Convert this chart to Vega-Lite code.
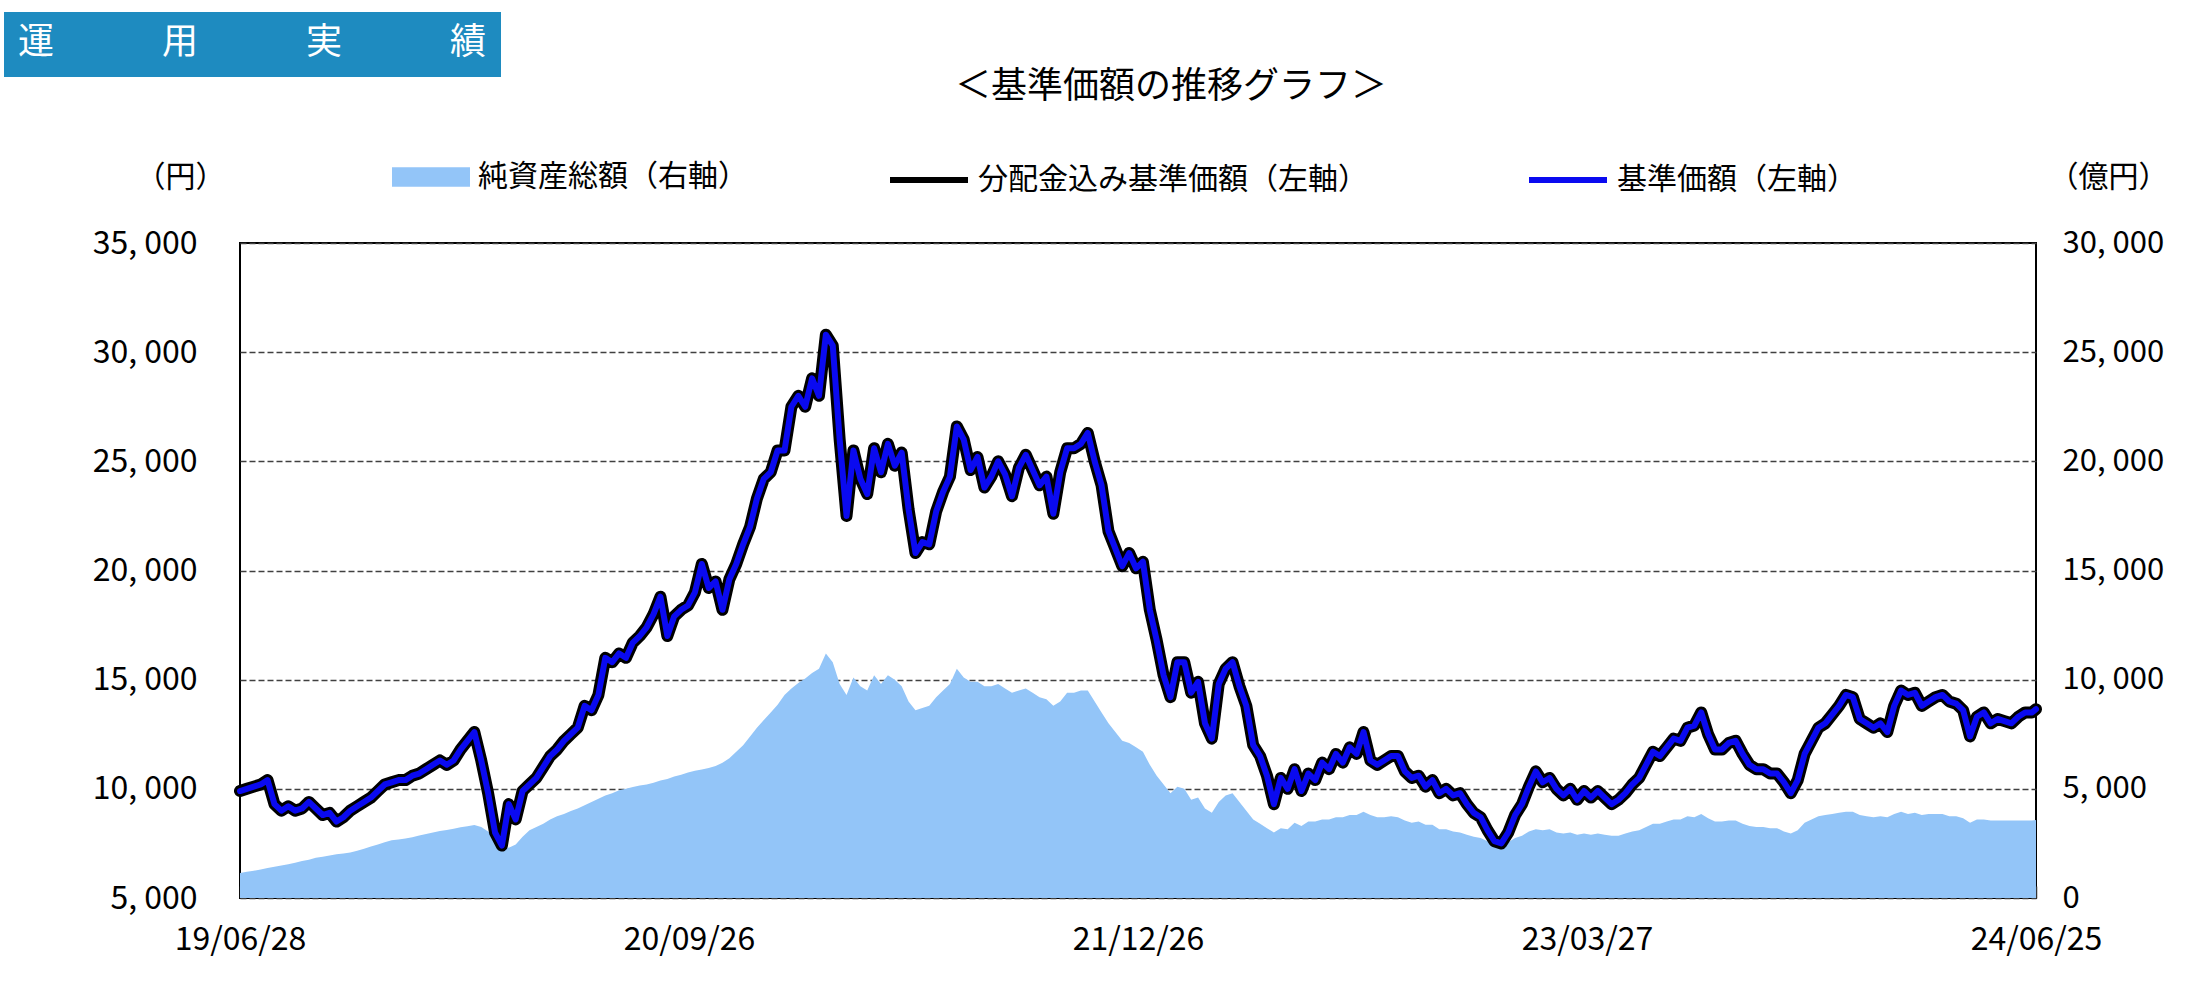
{
"$schema": "https://vega.github.io/schema/vega-lite/v6.json",
"width": 1796, "height": 655,
"autosize": {"type": "none"},
"padding": {"left": 240, "top": 243, "right": 172, "bottom": 90},
"background": "white",
"config": {
  "view": {"stroke": "#000000", "strokeWidth": 2},
  "font": "Noto Sans CJK JP",
  "axis": {"labelColor": "black", "titleColor": "black", "titleFont": "Noto Sans CJK JP", "titleFontWeight": "normal", "titleFontSize": 30, "labelFont": "Noto Sans CJK JP", "labelFontSize": 32}
},
"title": {"text": "＜基準価額の推移グラフ＞", "fontSize": 36, "font": "Noto Sans CJK JP", "fontWeight": "normal", "color": "black", "anchor": "middle", "frame": "group", "dx": 33, "baseline": "middle", "offset": -111},
"data": {"values": [
{"date":"2019-06-28","nav":9900,"assets":1150},{"date":"2019-07-05","nav":10000,"assets":1200},{"date":"2019-07-12","nav":10100,"assets":1250},{"date":"2019-07-19","nav":10200,"assets":1300},{"date":"2019-07-26","nav":10400,"assets":1370},{"date":"2019-08-02","nav":9300,"assets":1430},{"date":"2019-08-09","nav":9000,"assets":1490},{"date":"2019-08-16","nav":9200,"assets":1550},{"date":"2019-08-23","nav":9000,"assets":1620},{"date":"2019-08-30","nav":9100,"assets":1690},
{"date":"2019-09-06","nav":9400,"assets":1750},{"date":"2019-09-13","nav":9100,"assets":1840},{"date":"2019-09-20","nav":8800,"assets":1890},{"date":"2019-09-27","nav":8900,"assets":1950},{"date":"2019-10-04","nav":8500,"assets":2000},{"date":"2019-10-11","nav":8700,"assets":2040},{"date":"2019-10-18","nav":9000,"assets":2080},{"date":"2019-10-25","nav":9200,"assets":2160},{"date":"2019-11-01","nav":9400,"assets":2260},{"date":"2019-11-08","nav":9600,"assets":2360},
{"date":"2019-11-15","nav":9900,"assets":2450},{"date":"2019-11-22","nav":10200,"assets":2550},{"date":"2019-11-29","nav":10300,"assets":2640},{"date":"2019-12-06","nav":10400,"assets":2680},{"date":"2019-12-13","nav":10400,"assets":2730},{"date":"2019-12-20","nav":10600,"assets":2780},{"date":"2019-12-27","nav":10700,"assets":2860},{"date":"2020-01-03","nav":10900,"assets":2930},{"date":"2020-01-10","nav":11100,"assets":3000},{"date":"2020-01-17","nav":11300,"assets":3070},
{"date":"2020-01-24","nav":11100,"assets":3120},{"date":"2020-01-31","nav":11300,"assets":3170},{"date":"2020-02-07","nav":11800,"assets":3240},{"date":"2020-02-14","nav":12200,"assets":3290},{"date":"2020-02-21","nav":12600,"assets":3340},{"date":"2020-02-28","nav":11300,"assets":3250},{"date":"2020-03-06","nav":9800,"assets":3050},{"date":"2020-03-13","nav":8000,"assets":2800},{"date":"2020-03-20","nav":7400,"assets":2400},{"date":"2020-03-27","nav":9300,"assets":2300},
{"date":"2020-04-03","nav":8600,"assets":2450},{"date":"2020-04-10","nav":9900,"assets":2800},{"date":"2020-04-17","nav":10200,"assets":3100},{"date":"2020-04-24","nav":10500,"assets":3250},{"date":"2020-05-01","nav":11000,"assets":3400},{"date":"2020-05-08","nav":11500,"assets":3600},{"date":"2020-05-15","nav":11800,"assets":3750},{"date":"2020-05-22","nav":12200,"assets":3850},{"date":"2020-05-29","nav":12500,"assets":3980},{"date":"2020-06-05","nav":12800,"assets":4100},
{"date":"2020-06-12","nav":13800,"assets":4250},{"date":"2020-06-19","nav":13600,"assets":4400},{"date":"2020-06-26","nav":14300,"assets":4550},{"date":"2020-07-03","nav":16000,"assets":4700},{"date":"2020-07-10","nav":15800,"assets":4800},{"date":"2020-07-17","nav":16200,"assets":4930},{"date":"2020-07-24","nav":16000,"assets":5000},{"date":"2020-07-31","nav":16700,"assets":5080},{"date":"2020-08-07","nav":17000,"assets":5150},{"date":"2020-08-14","nav":17400,"assets":5200},
{"date":"2020-08-21","nav":18000,"assets":5280},{"date":"2020-08-28","nav":18800,"assets":5380},{"date":"2020-09-04","nav":17000,"assets":5450},{"date":"2020-09-11","nav":17900,"assets":5570},{"date":"2020-09-18","nav":18200,"assets":5650},{"date":"2020-09-25","nav":18400,"assets":5750},{"date":"2020-10-02","nav":19000,"assets":5830},{"date":"2020-10-09","nav":20300,"assets":5880},{"date":"2020-10-16","nav":19200,"assets":5950},{"date":"2020-10-23","nav":19500,"assets":6050},
{"date":"2020-10-30","nav":18200,"assets":6200},{"date":"2020-11-06","nav":19600,"assets":6400},{"date":"2020-11-13","nav":20300,"assets":6700},{"date":"2020-11-20","nav":21200,"assets":7000},{"date":"2020-11-27","nav":22000,"assets":7400},{"date":"2020-12-04","nav":23300,"assets":7800},{"date":"2020-12-11","nav":24200,"assets":8150},{"date":"2020-12-18","nav":24500,"assets":8500},{"date":"2020-12-25","nav":25500,"assets":8850},{"date":"2021-01-01","nav":25500,"assets":9300},
{"date":"2021-01-08","nav":27500,"assets":9600},{"date":"2021-01-15","nav":28000,"assets":9850},{"date":"2021-01-22","nav":27500,"assets":10050},{"date":"2021-01-29","nav":28800,"assets":10300},{"date":"2021-02-05","nav":28000,"assets":10500},{"date":"2021-02-12","nav":30800,"assets":11200},{"date":"2021-02-19","nav":30300,"assets":10800},{"date":"2021-02-26","nav":26000,"assets":9800},{"date":"2021-03-05","nav":22500,"assets":9300},{"date":"2021-03-12","nav":25500,"assets":10100},
{"date":"2021-03-19","nav":24200,"assets":9700},{"date":"2021-03-26","nav":23500,"assets":9500},{"date":"2021-04-02","nav":25600,"assets":10200},{"date":"2021-04-09","nav":24500,"assets":9800},{"date":"2021-04-16","nav":25800,"assets":10200},{"date":"2021-04-23","nav":24800,"assets":10000},{"date":"2021-04-30","nav":25400,"assets":9700},{"date":"2021-05-07","nav":22800,"assets":9000},{"date":"2021-05-14","nav":20800,"assets":8600},{"date":"2021-05-21","nav":21300,"assets":8700},
{"date":"2021-05-28","nav":21200,"assets":8800},{"date":"2021-06-04","nav":22700,"assets":9200},{"date":"2021-06-11","nav":23600,"assets":9500},{"date":"2021-06-18","nav":24300,"assets":9800},{"date":"2021-06-25","nav":26600,"assets":10500},{"date":"2021-07-02","nav":26000,"assets":10100},{"date":"2021-07-09","nav":24600,"assets":9900},{"date":"2021-07-16","nav":25200,"assets":9900},{"date":"2021-07-23","nav":23800,"assets":9700},{"date":"2021-07-30","nav":24300,"assets":9700},
{"date":"2021-08-06","nav":25000,"assets":9800},{"date":"2021-08-13","nav":24400,"assets":9600},{"date":"2021-08-20","nav":23400,"assets":9400},{"date":"2021-08-27","nav":24700,"assets":9500},{"date":"2021-09-03","nav":25300,"assets":9600},{"date":"2021-09-10","nav":24600,"assets":9400},{"date":"2021-09-17","nav":23900,"assets":9200},{"date":"2021-09-24","nav":24300,"assets":9100},{"date":"2021-10-01","nav":22600,"assets":8800},{"date":"2021-10-08","nav":24500,"assets":9000},
{"date":"2021-10-15","nav":25600,"assets":9400},{"date":"2021-10-22","nav":25600,"assets":9400},{"date":"2021-10-29","nav":25800,"assets":9500},{"date":"2021-11-05","nav":26300,"assets":9500},{"date":"2021-11-12","nav":25000,"assets":9000},{"date":"2021-11-19","nav":23900,"assets":8500},{"date":"2021-11-26","nav":21800,"assets":8000},{"date":"2021-12-03","nav":21000,"assets":7600},{"date":"2021-12-10","nav":20200,"assets":7200},{"date":"2021-12-17","nav":20800,"assets":7100},
{"date":"2021-12-24","nav":20100,"assets":6900},{"date":"2021-12-31","nav":20400,"assets":6700},{"date":"2022-01-07","nav":18200,"assets":6100},{"date":"2022-01-14","nav":16800,"assets":5600},{"date":"2022-01-21","nav":15200,"assets":5200},{"date":"2022-01-28","nav":14200,"assets":4800},{"date":"2022-02-04","nav":15800,"assets":5100},{"date":"2022-02-11","nav":15800,"assets":5000},{"date":"2022-02-18","nav":14400,"assets":4500},{"date":"2022-02-25","nav":14900,"assets":4600},
{"date":"2022-03-04","nav":13000,"assets":4100},{"date":"2022-03-11","nav":12300,"assets":3900},{"date":"2022-03-18","nav":14800,"assets":4400},{"date":"2022-03-25","nav":15500,"assets":4700},{"date":"2022-04-01","nav":15800,"assets":4800},{"date":"2022-04-08","nav":14700,"assets":4400},{"date":"2022-04-15","nav":13800,"assets":4000},{"date":"2022-04-22","nav":12000,"assets":3600},{"date":"2022-04-29","nav":11500,"assets":3400},{"date":"2022-05-06","nav":10600,"assets":3200},
{"date":"2022-05-13","nav":9300,"assets":3000},{"date":"2022-05-20","nav":10500,"assets":3200},{"date":"2022-05-27","nav":10000,"assets":3150},{"date":"2022-06-03","nav":10900,"assets":3450},{"date":"2022-06-10","nav":9900,"assets":3300},{"date":"2022-06-17","nav":10700,"assets":3500},{"date":"2022-06-24","nav":10400,"assets":3500},{"date":"2022-07-01","nav":11200,"assets":3600},{"date":"2022-07-08","nav":10900,"assets":3600},{"date":"2022-07-15","nav":11600,"assets":3700},
{"date":"2022-07-22","nav":11200,"assets":3700},{"date":"2022-07-29","nav":11900,"assets":3800},{"date":"2022-08-05","nav":11600,"assets":3800},{"date":"2022-08-12","nav":12600,"assets":3950},{"date":"2022-08-19","nav":11300,"assets":3800},{"date":"2022-08-26","nav":11100,"assets":3700},{"date":"2022-09-02","nav":11300,"assets":3700},{"date":"2022-09-09","nav":11500,"assets":3750},{"date":"2022-09-16","nav":11500,"assets":3700},{"date":"2022-09-23","nav":10800,"assets":3550},
{"date":"2022-09-30","nav":10500,"assets":3450},{"date":"2022-10-07","nav":10600,"assets":3500},{"date":"2022-10-14","nav":10100,"assets":3350},{"date":"2022-10-21","nav":10400,"assets":3350},{"date":"2022-10-28","nav":9800,"assets":3150},{"date":"2022-11-04","nav":10000,"assets":3150},{"date":"2022-11-11","nav":9700,"assets":3050},{"date":"2022-11-18","nav":9800,"assets":3000},{"date":"2022-11-25","nav":9300,"assets":2900},{"date":"2022-12-02","nav":8900,"assets":2800},
{"date":"2022-12-09","nav":8700,"assets":2750},{"date":"2022-12-16","nav":8100,"assets":2600},{"date":"2022-12-23","nav":7600,"assets":2450},{"date":"2022-12-30","nav":7500,"assets":2400},{"date":"2023-01-06","nav":8000,"assets":2550},{"date":"2023-01-13","nav":8800,"assets":2750},{"date":"2023-01-20","nav":9300,"assets":2850},{"date":"2023-01-27","nav":10100,"assets":3050},{"date":"2023-02-03","nav":10800,"assets":3150},{"date":"2023-02-10","nav":10300,"assets":3100},
{"date":"2023-02-17","nav":10500,"assets":3150},{"date":"2023-02-24","nav":10000,"assets":3000},{"date":"2023-03-03","nav":9700,"assets":2950},{"date":"2023-03-10","nav":10000,"assets":3000},{"date":"2023-03-17","nav":9500,"assets":2900},{"date":"2023-03-24","nav":9900,"assets":2950},{"date":"2023-03-31","nav":9600,"assets":2900},{"date":"2023-04-07","nav":9900,"assets":2950},{"date":"2023-04-14","nav":9600,"assets":2900},{"date":"2023-04-21","nav":9300,"assets":2850},
{"date":"2023-04-28","nav":9500,"assets":2850},{"date":"2023-05-05","nav":9800,"assets":2950},{"date":"2023-05-12","nav":10200,"assets":3050},{"date":"2023-05-19","nav":10500,"assets":3100},{"date":"2023-05-26","nav":11100,"assets":3250},{"date":"2023-06-02","nav":11700,"assets":3400},{"date":"2023-06-09","nav":11500,"assets":3400},{"date":"2023-06-16","nav":11900,"assets":3500},{"date":"2023-06-23","nav":12300,"assets":3600},{"date":"2023-06-30","nav":12200,"assets":3600},
{"date":"2023-07-07","nav":12800,"assets":3750},{"date":"2023-07-14","nav":12900,"assets":3700},{"date":"2023-07-21","nav":13500,"assets":3850},{"date":"2023-07-28","nav":12500,"assets":3650},{"date":"2023-08-04","nav":11800,"assets":3500},{"date":"2023-08-11","nav":11800,"assets":3500},{"date":"2023-08-18","nav":12100,"assets":3550},{"date":"2023-08-25","nav":12200,"assets":3550},{"date":"2023-09-01","nav":11600,"assets":3400},{"date":"2023-09-08","nav":11100,"assets":3300},
{"date":"2023-09-15","nav":10900,"assets":3250},{"date":"2023-09-22","nav":10900,"assets":3250},{"date":"2023-09-29","nav":10700,"assets":3200},{"date":"2023-10-06","nav":10700,"assets":3200},{"date":"2023-10-13","nav":10300,"assets":3050},{"date":"2023-10-20","nav":9800,"assets":2950},{"date":"2023-10-27","nav":10400,"assets":3100},{"date":"2023-11-03","nav":11600,"assets":3450},{"date":"2023-11-10","nav":12200,"assets":3600},{"date":"2023-11-17","nav":12800,"assets":3750},
{"date":"2023-11-24","nav":13000,"assets":3800},{"date":"2023-12-01","nav":13400,"assets":3850},{"date":"2023-12-08","nav":13800,"assets":3900},{"date":"2023-12-15","nav":14300,"assets":3950},{"date":"2023-12-22","nav":14200,"assets":3950},{"date":"2023-12-29","nav":13200,"assets":3800},{"date":"2024-01-05","nav":13000,"assets":3750},{"date":"2024-01-12","nav":12800,"assets":3700},{"date":"2024-01-19","nav":13000,"assets":3750},{"date":"2024-01-26","nav":12600,"assets":3700},
{"date":"2024-02-02","nav":13800,"assets":3850},{"date":"2024-02-09","nav":14500,"assets":3950},{"date":"2024-02-16","nav":14300,"assets":3850},{"date":"2024-02-23","nav":14400,"assets":3900},{"date":"2024-03-01","nav":13800,"assets":3800},{"date":"2024-03-08","nav":14000,"assets":3850},{"date":"2024-03-15","nav":14200,"assets":3850},{"date":"2024-03-22","nav":14300,"assets":3850},{"date":"2024-03-29","nav":14000,"assets":3750},{"date":"2024-04-05","nav":13900,"assets":3750},
{"date":"2024-04-12","nav":13600,"assets":3650},{"date":"2024-04-19","nav":12400,"assets":3450},{"date":"2024-04-26","nav":13300,"assets":3600},{"date":"2024-05-03","nav":13500,"assets":3600},{"date":"2024-05-10","nav":13000,"assets":3550},{"date":"2024-05-17","nav":13200,"assets":3550},{"date":"2024-05-24","nav":13100,"assets":3550},{"date":"2024-05-31","nav":13000,"assets":3550},{"date":"2024-06-07","nav":13300,"assets":3550},{"date":"2024-06-14","nav":13500,"assets":3550},
{"date":"2024-06-21","nav":13500,"assets":3550},{"date":"2024-06-25","nav":13650,"assets":3570}
]},
"encoding": {
  "x": {"field": "date", "type": "temporal",
    "scale": {"type": "utc", "domain": [{"year": 2019, "month": 6, "date": 28, "utc": true}, {"year": 2024, "month": 6, "date": 25, "utc": true}], "nice": false},
    "axis": {"title": null, "values": [{"year": 2019, "month": 6, "date": 28, "utc": true}, {"year": 2020, "month": 9, "date": 26, "utc": true}, {"year": 2021, "month": 12, "date": 26, "utc": true}, {"year": 2023, "month": 3, "date": 27, "utc": true}, {"year": 2024, "month": 6, "date": 25, "utc": true}],
      "format": "%y/%m/%d", "labelFlush": false, "labelOverlap": false, "grid": false, "domain": false, "ticks": true, "tickSize": -12, "tickColor": "#333333", "tickWidth": 1.5, "labelPadding": 38, "labelBaseline": "top", "labelAlign": "center"}}
},
"layer": [
  {"mark": {"type": "area", "interpolate": "linear"},
   "encoding": {
     "y": {"field": "assets", "type": "quantitative", "scale": {"domain": [0, 30000], "nice": false, "zero": true},
       "axis": {"orient": "right", "title": "（億円）", "values": [0, 5000, 10000, 15000, 20000, 25000, 30000], "labelExpr": "replace(format(datum.value, ','), ',', ', ')", "grid": false, "ticks": false, "domain": false, "labelPadding": 26, "labelFontSize": 31, "titleX": 72, "titleY": -66, "titleAngle": 0, "titleAlign": "center", "titleBaseline": "middle"}},
     "fill": {"datum": "純資産総額（右軸）", "type": "nominal", "scale": {"domain": ["純資産総額（右軸）"], "range": ["#93C5F8"]},
       "legend": {"title": null, "orient": "none", "legendX": 152, "legendY": -105, "symbolType": "M-1,-0.25H1V0.25H-1Z", "symbolSize": 6084, "symbolStrokeWidth": 0, "labelFontSize": 30, "labelFont": "Noto Sans CJK JP", "labelColor": "black", "labelOffset": 8, "labelLimit": 800, "padding": 0}},
     "opacity": {"datum": "運用実績", "type": "nominal", "scale": {"type": "ordinal", "domain": ["運用実績"], "range": [1]},
       "legend": {"title": "運　　　用　　　実　　　績", "orient": "none", "legendX": -236, "legendY": -231, "fillColor": "#1E8BC0", "padding": 14, "titleFontSize": 36, "titleFont": "Noto Sans CJK JP", "titleFontWeight": "normal", "titleColor": "white", "titlePadding": 0, "titleLimit": 0, "labelExpr": "''", "symbolSize": 0, "symbolOpacity": 0, "symbolStrokeWidth": 0, "labelFontSize": 1}}
   }},
  {"encoding": {
     "y": {"field": "nav", "type": "quantitative", "scale": {"domain": [5000, 35000], "nice": false, "zero": false},
       "axis": {"orient": "left", "title": "（円）", "values": [5000, 10000, 15000, 20000, 25000, 30000, 35000], "labelExpr": "replace(format(datum.value, ','), ',', ', ')", "grid": true, "gridColor": "#404040", "gridDash": [6, 3], "gridWidth": 1.5, "ticks": false, "domain": false, "labelPadding": 43, "titleX": -60, "titleY": -66, "titleAngle": 0, "titleAlign": "center", "titleBaseline": "middle"}}
   },
   "layer": [
     {"mark": {"type": "line", "strokeWidth": 12, "strokeJoin": "round", "strokeCap": "round"},
      "encoding": {
        "stroke": {"datum": "分配金込み基準価額（左軸）", "type": "nominal", "scale": {"domain": ["分配金込み基準価額（左軸）", "基準価額（左軸）"], "range": ["#000000", "#0A0AF0"]},
          "legend": {"title": null, "orient": "none", "legendX": 647, "legendY": -105, "direction": "horizontal", "symbolType": "stroke", "symbolSize": 6084, "symbolStrokeWidth": 6, "labelFontSize": 30, "labelFont": "Noto Sans CJK JP", "labelColor": "black", "labelOffset": 7, "columnPadding": 149, "labelLimit": 800, "padding": 0}}
      }},
     {"mark": {"type": "line", "strokeWidth": 6, "strokeJoin": "round", "strokeCap": "round"},
      "encoding": {
        "stroke": {"datum": "基準価額（左軸）", "type": "nominal",
          "legend": {"title": null, "orient": "none", "legendX": 647, "legendY": -105, "direction": "horizontal", "symbolType": "stroke", "symbolSize": 6084, "symbolStrokeWidth": 6, "labelFontSize": 30, "labelFont": "Noto Sans CJK JP", "labelColor": "black", "labelOffset": 7, "columnPadding": 149, "labelLimit": 800, "padding": 0}}
      }}
   ]}
],
"resolve": {"scale": {"y": "independent"}}
}
